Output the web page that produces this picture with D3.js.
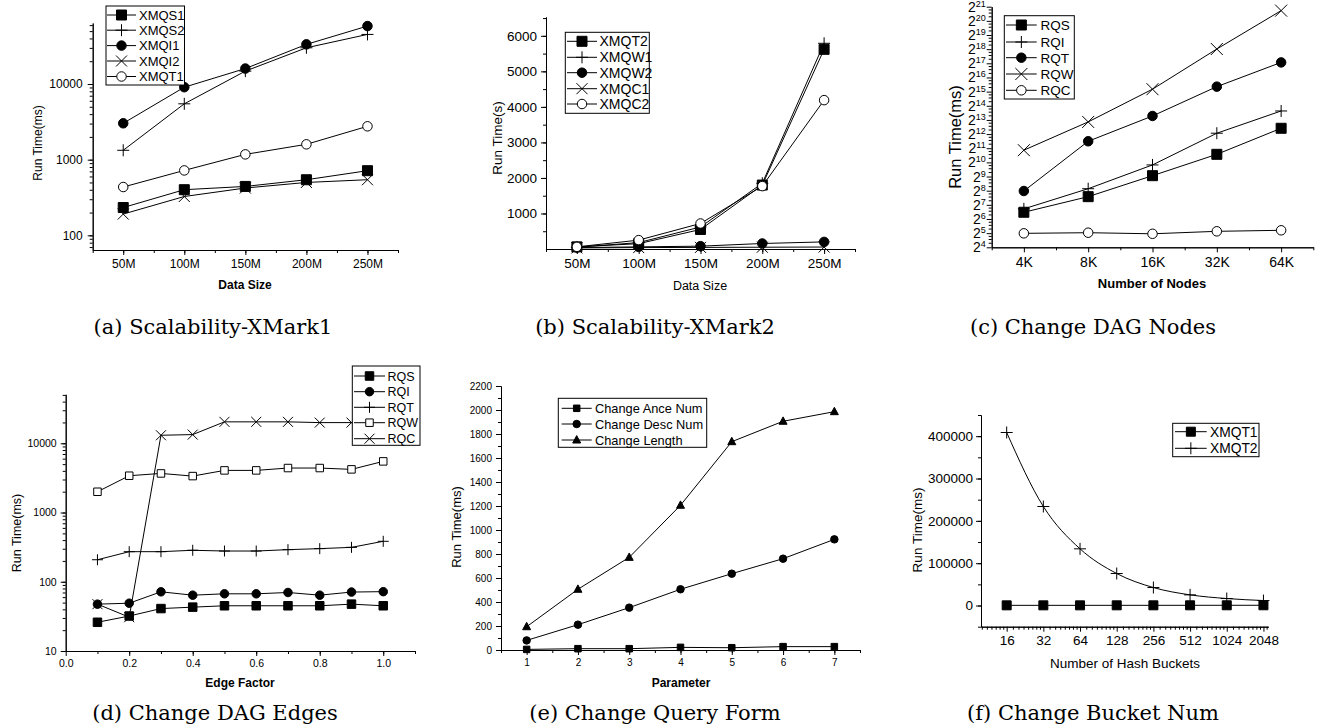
<!DOCTYPE html>
<html><head><meta charset="utf-8">
<script src="https://cdn.jsdelivr.net/npm/d3@7"></script>
<style>
body{margin:0;background:#fff}
svg text{font-family:"Liberation Sans",Arial,sans-serif;fill:#000}
svg text.cap{font-family:"DejaVu Serif",serif}
</style></head><body>
<svg id="fig" width="1330" height="728"></svg>
<script>
// ---- data ----
var sizeVals = [50, 100, 150, 200, 250];
var sizeLabels = ['50M', '100M', '150M', '200M', '250M'];

var xmqs1 = [233, 401, 443, 543, 715];
var xmqs2 = [1330, 5470, 14800, 30100, 45200];
var xmqi1 = [3025, 9070, 16000, 33400, 58300];
var xmqi2 = [191, 326, 422, 500, 543];
var xmqt1 = [435, 721, 1175, 1595, 2760];

var xmqt2 = [60, 150, 550, 1800, 5620];
var xmqw1 = [50, 180, 620, 1850, 5790];
var xmqw2 = [40, 60, 80, 155, 200];
var xmqc1 = [30, 40, 45, 50, 55];
var xmqc2 = [60, 250, 718, 1770, 4190];

var nodeVals = [4, 8, 16, 32, 64];
var nodeLabels = ['4K', '8K', '16K', '32K', '64K'];
var rqsN = [89, 191, 534, 1520, 5440];
var rqiN = [105, 282, 904, 4270, 12700];
var rqtN = [252, 2880, 9940, 41800, 137000];
var rqwN = [1860, 7430, 36900, 264000, 1730000];
var rqcN = [31.7, 32.7, 31, 35, 36.8];

var edgeVals = [0.1, 0.2, 0.3, 0.4, 0.5, 0.6, 0.7, 0.8, 0.9, 1.0];
var rqsE = [26, 32, 41, 43, 45, 45, 45, 45, 47.5, 45];
var rqiE = [47.5, 49, 71.6, 64, 67, 67, 70, 64, 71, 72];
var rqtE = [208, 272, 272, 285, 278, 278, 291, 301, 314, 384];
var rqwE = [1995, 3400, 3670, 3360, 4060, 4060, 4390, 4390, 4200, 5480];
var rqcE = [47.5, 30.8, 13060, 13360, 20400, 20400, 20400, 19900, 19900, 19900];

var paramVals = [1, 2, 3, 4, 5, 6, 7];
var anceNum = [5, 11, 11, 22, 19, 28, 28];
var descNum = [80, 211, 353, 506, 636, 761, 922];
var lengthNum = [194, 506, 772, 1206, 1736, 1906, 1986];

var bucketVals = [16, 32, 64, 128, 256, 512, 1024, 2048];
var xmqt1B = [450, 460, 470, 480, 500, 520, 560, 600];
var xmqt2B = [408700, 233900, 133900, 75600, 42500, 25200, 16500, 11800];

var captions = ['(a) Scalability-XMark1', '(b) Scalability-XMark2', '(c) Change DAG Nodes',
                '(d) Change DAG Edges', '(e) Change Query Form', '(f) Change Bucket Num'];

var svg = d3.select('#fig');

function markerPath(type, x, y, s) {
  var r = s / 2;
  if (type == 'square' || type == 'squareOpen')
    return 'M' + (x - r) + ',' + (y - r) + 'h' + s + 'v' + s + 'h' + (-s) + 'Z';
  if (type == 'circle' || type == 'circleOpen')
    return 'M' + (x - r) + ',' + y + 'a' + r + ',' + r + ' 0 1,0 ' + (2 * r) + ',0a' + r + ',' + r + ' 0 1,0 ' + (-2 * r) + ',0Z';
  if (type == 'plus')
    return 'M' + (x - r) + ',' + y + 'H' + (x + r) + 'M' + x + ',' + (y - r) + 'V' + (y + r);
  if (type == 'x')
    return 'M' + (x - r) + ',' + (y - r) + 'L' + (x + r) + ',' + (y + r) + 'M' + (x - r) + ',' + (y + r) + 'L' + (x + r) + ',' + (y - r);
  if (type == 'triangle')
    return 'M' + x + ',' + (y - r * 1.1) + 'L' + (x + r) + ',' + (y + r * 0.75) + 'L' + (x - r) + ',' + (y + r * 0.75) + 'Z';
}
function markerFill(type) {
  if (type == 'squareOpen' || type == 'circleOpen') return '#fff';
  if (type == 'plus' || type == 'x') return 'none';
  return '#000';
}
function drawMarker(g, type, x, y, s) {
  g.append('path').attr('d', markerPath(type, x, y, s))
    .attr('fill', markerFill(type)).attr('stroke', '#000').attr('stroke-width', 1);
}

function styleAxis(sel, fs) {
  sel.attr('font-size', fs).attr('font-family', null);
  sel.select('.domain').attr('stroke', '#000');
  sel.selectAll('.tick line').attr('stroke', '#000');
  sel.selectAll('.tick text').attr('fill', '#000');
}

function drawPanel(p) {
  var g = svg.append('g');
  var x = p.x.range([p.x0, p.x1]);
  var y = p.y.range([p.y1, p.y0]);

  // minor ticks first
  if (p.xMinor) g.append('g').attr('transform', 'translate(0,' + p.y1 + ')')
    .call(d3.axisBottom(x).tickValues(p.xMinor).tickFormat('').tickSize(3).tickSizeOuter(0))
    .call(styleAxis, p.tickFs);
  if (p.yMinor) g.append('g').attr('transform', 'translate(' + p.x0 + ',0)')
    .call(d3.axisLeft(y).tickValues(p.yMinor).tickFormat('').tickSize(3).tickSizeOuter(0))
    .call(styleAxis, p.tickFs);

  var gx = g.append('g').attr('transform', 'translate(0,' + p.y1 + ')')
    .call(d3.axisBottom(x).tickValues(p.xTicks).tickFormat(p.xFormat).tickSize(5).tickPadding(p.xPad || 4).tickSizeOuter(0))
    .call(styleAxis, p.xFs || p.tickFs);
  var gy = g.append('g').attr('transform', 'translate(' + p.x0 + ',0)')
    .call(d3.axisLeft(y).tickValues(p.yTicks).tickFormat(p.yFormat || null).tickSize(5).tickPadding(p.yPad || 4).tickSizeOuter(0))
    .call(styleAxis, p.yFs || p.tickFs);
  if (p.yPow2) {
    gy.selectAll('.tick text').each(function (d) {
      var t = d3.select(this).text(null);
      t.append('tspan').text('2');
      t.append('tspan').attr('font-size', 9).attr('dy', '-0.55em').text(Math.round(Math.log2(d)));
    });
  }

  // lines and markers
  var line = d3.line().x(function (d) { return x(d[0]); }).y(function (d) { return y(d[1]); })
    .curve(p.curve || d3.curveLinear);
  p.series.forEach(function (s) {
    var pts = p.xVals.map(function (v, i) { return [v, s.values[i]]; });
    g.append('path').attr('d', line(pts)).attr('fill', 'none')
      .attr('stroke', '#000').attr('stroke-width', 1);
    g.selectAll(null).data(pts).join('path')
      .attr('d', function (d) { return markerPath(s.marker, x(d[0]), y(d[1]), p.ms[s.marker]); })
      .attr('fill', markerFill(s.marker)).attr('stroke', '#000').attr('stroke-width', 1);
  });

  // legend
  var L = p.legend;
  var lg = g.append('g');
  lg.append('rect').attr('x', L.x0).attr('y', L.y0).attr('width', L.x1 - L.x0).attr('height', L.y1 - L.y0)
    .attr('fill', '#fff').attr('stroke', '#000').attr('stroke-width', 1);
  p.series.forEach(function (s, i) {
    var yy = L.ys[i];
    lg.append('line').attr('x1', L.lx0).attr('x2', L.lx1).attr('y1', yy).attr('y2', yy)
      .attr('stroke', '#000').attr('stroke-width', 1);
    drawMarker(lg, s.marker, (L.lx0 + L.lx1) / 2, yy, p.ms[s.marker]);
    lg.append('text').attr('x', L.tx).attr('y', yy).attr('dy', '0.36em').attr('font-size', L.fs).text(s.name);
  });

  // axis titles
  g.append('text').attr('transform', 'translate(' + p.yt[0] + ',' + p.yt[1] + ') rotate(-90)')
    .attr('text-anchor', 'middle').attr('dy', '0.36em').attr('font-size', p.yt[2]).text(p.yTitle);
  g.append('text').attr('x', p.xt[0]).attr('y', p.xt[1]).attr('text-anchor', 'middle').attr('dy', '0.36em')
    .attr('font-size', p.xt[2]).attr('font-weight', p.xt[3] ? 'bold' : null).text(p.xTitle);
  // caption
  g.append('text').attr('class', 'cap').attr('x', p.cap[0]).attr('y', p.cap[1]).attr('text-anchor', 'middle')
    .attr('font-size', 21).text(p.caption);
}

function range(a, b, st) { var r = []; for (var v = a; v <= b + 1e-9; v += st) r.push(+v.toFixed(6)); return r; }
function logMinor(lo, hi) {
  var r = [];
  for (var e = -2; e <= 8; e++) for (var k = 1; k <= 9; k++) {
    var v = k * Math.pow(10, e);
    if (v >= lo && v <= hi) r.push(v);
  }
  return r;
}
function lab(vals, labels) { return function (d) { return labels[vals.indexOf(d)]; }; }

var ms1 = {square: 10, circle: 9.5, circleOpen: 9.5, plus: 12, x: 11, squareOpen: 8, triangle: 8};

// (a)
drawPanel({
  x0: 92.7, x1: 398, y0: 23, y1: 250,
  x: d3.scaleLinear().domain([25, 275]), y: d3.scaleLog().domain([64, 64000]),
  xVals: sizeVals, xTicks: sizeVals, xFormat: lab(sizeVals, sizeLabels), xMinor: range(25, 275, 25),
  yTicks: [100, 1000, 10000], yFormat: d3.format('d'), yMinor: logMinor(64, 64000), yPad: 5,
  tickFs: 12, ms: ms1,
  series: [
    {name: 'XMQS1', values: xmqs1, marker: 'square'},
    {name: 'XMQS2', values: xmqs2, marker: 'plus'},
    {name: 'XMQI1', values: xmqi1, marker: 'circle'},
    {name: 'XMQI2', values: xmqi2, marker: 'x'},
    {name: 'XMQT1', values: xmqt1, marker: 'circleOpen'}
  ],
  legend: {x0: 106, x1: 184.5, y0: 6, y1: 85, ys: [15, 30.2, 45.6, 61, 76.5], lx0: 107, lx1: 136, tx: 139, fs: 13},
  yTitle: 'Run Time(ms)', yt: [38, 143, 12], xTitle: 'Data Size', xt: [245, 285, 12, true],
  caption: captions[0], cap: [213, 334]
});

// (b)
drawPanel({
  x0: 546, x1: 855, y0: 17, y1: 249,
  x: d3.scaleLinear().domain([25, 275]), y: d3.scaleLinear().domain([0, 6530]),
  xVals: sizeVals, xTicks: sizeVals, xFormat: lab(sizeVals, sizeLabels), xMinor: range(25, 275, 25),
  yTicks: [1000, 2000, 3000, 4000, 5000, 6000], yFormat: d3.format('d'), yMinor: range(500, 6500, 500), yPad: 4,
  tickFs: 13.5, ms: ms1,
  series: [
    {name: 'XMQT2', values: xmqt2, marker: 'square'},
    {name: 'XMQW1', values: xmqw1, marker: 'plus'},
    {name: 'XMQW2', values: xmqw2, marker: 'circle'},
    {name: 'XMQC1', values: xmqc1, marker: 'x'},
    {name: 'XMQC2', values: xmqc2, marker: 'circleOpen'}
  ],
  legend: {x0: 565.3, x1: 649.3, y0: 32.3, y1: 113.3, ys: [41.3, 57.3, 72.7, 88.7, 104], lx0: 567, lx1: 597, tx: 599.5, fs: 14},
  yTitle: 'Run Time(s)', yt: [497, 138, 13.5], xTitle: 'Data Size', xt: [700, 285, 12.5, false],
  caption: captions[1], cap: [655, 334]
});

// (c)
var pow2 = range(4, 21, 1).map(function (e) { return Math.pow(2, e); });
var pow2Minor = [];
pow2.slice(0, -1).forEach(function (v) { [1.25, 1.5, 1.75].forEach(function (k) { pow2Minor.push(v * k); }); });
drawPanel({
  x0: 991.7, x1: 1313.3, y0: 6.7, y1: 247.3,
  x: d3.scaleLog().base(2).domain([4 / Math.SQRT2, 64 * Math.SQRT2]), y: d3.scaleLog().base(2).domain([16, Math.pow(2, 21)]),
  xVals: nodeVals, xTicks: nodeVals, xFormat: lab(nodeVals, nodeLabels),
  xMinor: nodeVals.map(function (v) { return v * Math.SQRT2; }).concat([4 / Math.SQRT2]),
  yTicks: pow2, yPow2: true, yMinor: pow2Minor, yPad: 1,
  tickFs: 14, xPad: 5, ms: {square: 10, circle: 9.5, circleOpen: 9.5, plus: 12, x: 12},
  series: [
    {name: 'RQS', values: rqsN, marker: 'square'},
    {name: 'RQI', values: rqiN, marker: 'plus'},
    {name: 'RQT', values: rqtN, marker: 'circle'},
    {name: 'RQW', values: rqwN, marker: 'x'},
    {name: 'RQC', values: rqcN, marker: 'circleOpen'}
  ],
  legend: {x0: 1004.3, x1: 1074.3, y0: 15.7, y1: 99, ys: [25, 42, 57.7, 74, 90.3], lx0: 1006, lx1: 1036.7, tx: 1040.5, fs: 13.5},
  yTitle: 'Run Time(ms)', yt: [955, 137, 16.5], xTitle: 'Number of Nodes', xt: [1152, 283, 13, true],
  caption: captions[2], cap: [1093, 334]
});

// (d)
drawPanel({
  x0: 65.7, x1: 415, y0: 394.3, y1: 651,
  x: d3.scaleLinear().domain([0, 1.1]), y: d3.scaleLog().domain([10, 51000]),
  xVals: edgeVals, xTicks: [0, 0.2, 0.4, 0.6, 0.8, 1.0], xFormat: d3.format('.1f'), xMinor: range(0.1, 1.1, 0.1),
  yTicks: [10, 100, 1000, 10000], yFormat: d3.format('d'), yMinor: logMinor(10, 51000), yPad: 4,
  tickFs: 10.5, ms: {square: 8.5, circle: 8.5, plus: 11, squareOpen: 7.5, x: 10},
  series: [
    {name: 'RQS', values: rqsE, marker: 'square'},
    {name: 'RQI', values: rqiE, marker: 'circle'},
    {name: 'RQT', values: rqtE, marker: 'plus'},
    {name: 'RQW', values: rqwE, marker: 'squareOpen'},
    {name: 'RQC', values: rqcE, marker: 'x'}
  ],
  legend: {x0: 352.3, x1: 420, y0: 366, y1: 445.3, ys: [376, 391.7, 407.3, 422.7, 438.7], lx0: 354, lx1: 385, tx: 387.5, fs: 12.5},
  yTitle: 'Run Time(ms)', yt: [16, 533, 12.5], xTitle: 'Edge Factor', xt: [240, 683, 12, true],
  caption: captions[3], cap: [215, 720]
});

// (e)
drawPanel({
  x0: 501, x1: 860, y0: 386, y1: 650,
  x: d3.scaleLinear().domain([0.5, 7.5]), y: d3.scaleLinear().domain([0, 2200]),
  xVals: paramVals, xTicks: paramVals, xFormat: d3.format('d'), xMinor: range(0.5, 7.5, 0.5),
  yTicks: range(0, 2200, 200), yFormat: d3.format('d'), yMinor: range(100, 2100, 200), yPad: 4,
  tickFs: 10, ms: {square: 6.5, circle: 7.5, triangle: 8},
  series: [
    {name: 'Change Ance Num', values: anceNum, marker: 'square'},
    {name: 'Change Desc Num', values: descNum, marker: 'circle'},
    {name: 'Change Length', values: lengthNum, marker: 'triangle'}
  ],
  legend: {x0: 558.3, x1: 706.7, y0: 398.3, y1: 447.3, ys: [408.3, 424, 440], lx0: 561.7, lx1: 591.7, tx: 595, fs: 12.8},
  yTitle: 'Run Time(ms)', yt: [456, 527, 13], xTitle: 'Parameter', xt: [681, 683, 12, true],
  caption: captions[4], cap: [655, 720]
});

// (f)
var bucketMinor = [];
bucketVals.slice(0, -1).forEach(function (v) { for (var k = 1; k < 8; k++) bucketMinor.push(v + k * v / 8); });
[10, 11, 12, 13, 14, 15].forEach(function (v) { bucketMinor.push(v); });
[2176].forEach(function (v) { bucketMinor.push(v); });
drawPanel({
  x0: 981, x1: 1268.3, y0: 415, y1: 626.7,
  x: d3.scaleLog().base(2).domain([9.85, 2245]), y: d3.scaleLinear().domain([-50000, 450000]),
  xVals: bucketVals, xTicks: bucketVals, xFormat: d3.format('d'), xMinor: bucketMinor,
  yTicks: [0, 100000, 200000, 300000, 400000], yFormat: d3.format('d'), yMinor: range(-50000, 450000, 50000), yPad: 3,
  tickFs: 13.5, curve: d3.curveMonotoneX, ms: {square: 9, plus: 12},
  series: [
    {name: 'XMQT1', values: xmqt1B, marker: 'square'},
    {name: 'XMQT2', values: xmqt2B, marker: 'plus'}
  ],
  legend: {x0: 1172.7, x1: 1259, y0: 423.3, y1: 456.7, ys: [431.7, 448.3], lx0: 1175, lx1: 1206.7, tx: 1210, fs: 13.8},
  yTitle: 'Run Time(ms)', yt: [917, 530, 13.5], xTitle: 'Number of Hash Buckets', xt: [1125, 663, 13.5, false],
  caption: captions[5], cap: [1093, 720]
});
</script>
</body></html>
